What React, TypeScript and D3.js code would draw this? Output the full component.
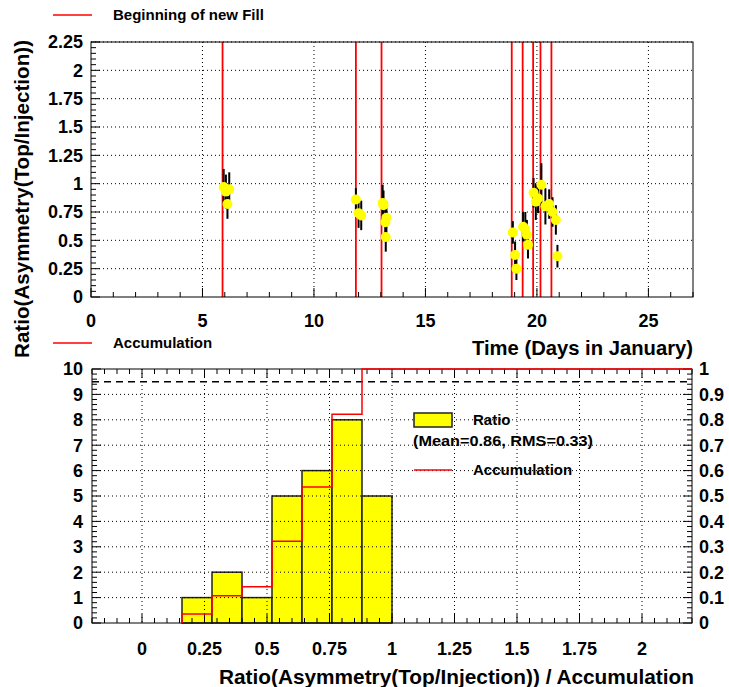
import * as d3 from 'd3'

// fill start times (days in January)
const fillStarts = [5.9, 11.88, 13.03, 18.87, 19.36, 19.83, 20.16, 20.65]

// ratio measurements: time, value, error
const times = [5.95, 6.05, 6.2, 6.12, 11.88, 12.0, 12.12, 13.08, 13.12, 13.2, 13.25, 13.22,
  18.92, 19.02, 19.08, 19.38, 19.48, 19.55, 19.6, 19.85, 19.95, 20.05, 20.2, 20.38, 20.55, 20.7, 20.85, 20.92]
const ratios = [0.97, 0.93, 0.95, 0.82, 0.86, 0.74, 0.72, 0.83, 0.81, 0.66, 0.7, 0.53,
  0.57, 0.37, 0.25, 0.62, 0.6, 0.55, 0.46, 0.92, 0.84, 0.87, 0.99, 0.8, 0.82, 0.75, 0.68, 0.36]
const ratioErrs = [0.16, 0.15, 0.15, 0.13, 0.1, 0.13, 0.13, 0.16, 0.13, 0.16, 0.14, 0.13,
  0.1, 0.12, 0.1, 0.13, 0.15, 0.13, 0.12, 0.13, 0.16, 0.13, 0.19, 0.16, 0.13, 0.13, 0.13, 0.1]

// histogram binning
const binEdges = d3.range(21).map((i) => -0.2 + i * 0.12)
const topYLabels = d3.range(10).map((i) => i * 0.25)
const topXLabels = [0, 5, 10, 15, 20, 25]
const botXLabels = d3.range(9).map((i) => i * 0.25)
const botYLabels = d3.range(11)
const botRLabels = d3.range(11).map((i) => i / 10)

const FONT = '"Liberation Sans", Arial, Helvetica, sans-serif'
const fmt = (v: number) => String(+v.toFixed(2))

const T = { l: 91, r: 693, t: 42, b: 297 }
const B = { l: 92, r: 692, t: 369, b: 623 }

export default function App() {
  const xTop = d3.scaleLinear().domain([0, 27]).range([T.l, T.r])
  const yTop = d3.scaleLinear().domain([0, 2.25]).range([T.b, T.t])
  const xBot = d3.scaleLinear().domain([-0.2, 2.2]).range([B.l, B.r])
  const yL = d3.scaleLinear().domain([0, 10]).range([B.b, B.t])
  const yR = d3.scaleLinear().domain([0, 1]).range([B.b, B.t])

  const bins = binEdges.slice(0, -1).map((lo, i) => {
    const hi = binEdges[i + 1]
    return { x0: lo, x1: hi, n: ratios.filter((v) => v >= lo && v < hi).length }
  })
  const total = d3.sum(bins, (d) => d.n)
  let run = 0
  const cum = bins.map((b) => {
    run += b.n
    return { x0: b.x0, x1: b.x1, f: run / total }
  })
  const firstIdx = cum.findIndex((c) => c.f > 0)
  const stepPts: [number, number][] = [[cum[firstIdx].x0, 0]]
  cum.slice(firstIdx).forEach((c) => {
    stepPts.push([c.x0, c.f])
    stepPts.push([c.x1, c.f])
  })
  const stepLine = d3.line<[number, number]>().x((d) => xBot(d[0])).y((d) => yR(d[1]))

  const dot = '1,3'
  const topXMinor = d3.range(28)
  const topYMinor = d3.range(46).map((i) => i * 0.05)
  const botXMinor = d3.range(49).map((i) => -0.2 + i * 0.05)
  const botLMinor = d3.range(51).map((i) => i * 0.2)
  const botRMinor = d3.range(51).map((i) => i * 0.02)
  const isMajor = (v: number, step: number) => Math.abs(v / step - Math.round(v / step)) < 1e-6

  return (
    <svg width={729} height={687} style={{ position: 'absolute', left: 0, top: 0, background: '#fff' }}
      fontFamily={FONT}>
      <rect width={729} height={687} fill="#fff" />

      {/* ---------- top panel ---------- */}
      <line x1={53} x2={92} y1={15} y2={15} stroke="#f00" strokeWidth={1.5} />
      <text x={113} y={15} dy="0.35em" fontSize={15} fontWeight="bold">Beginning of new Fill</text>

      {topYLabels.slice(1).map((v) => (
        <line key={'gy' + v} x1={T.l} x2={T.r} y1={yTop(v)} y2={yTop(v)} stroke="#000" strokeDasharray={dot} />
      ))}
      {topXLabels.slice(1).map((v) => (
        <line key={'gx' + v} x1={xTop(v)} x2={xTop(v)} y1={T.t} y2={T.b} stroke="#000" strokeDasharray={dot} />
      ))}
      {fillStarts.map((t) => (
        <line key={'f' + t} x1={xTop(t)} x2={xTop(t)} y1={T.t} y2={T.b} stroke="#f00" strokeWidth={1.8} />
      ))}
      {times.map((t, i) => (
        <line key={'e' + i} x1={xTop(t)} x2={xTop(t)} y1={yTop(ratios[i] - ratioErrs[i])}
          y2={yTop(ratios[i] + ratioErrs[i])} stroke="#000" strokeWidth={2} />
      ))}
      {times.map((t, i) => (
        <circle key={'p' + i} cx={xTop(t)} cy={yTop(ratios[i])} r={5} fill="#ffff00" />
      ))}
      <rect x={T.l} y={T.t} width={T.r - T.l} height={T.b - T.t} fill="none" stroke="#000" />
      {topXMinor.map((v) => (
        <line key={'tx' + v} x1={xTop(v)} x2={xTop(v)} y1={T.b} y2={T.b - (isMajor(v, 5) ? 9 : 5)} stroke="#000" />
      ))}
      {topYMinor.map((v) => (
        <line key={'ty' + v} x1={T.l} x2={T.l + (isMajor(v, 0.25) ? 9 : 5)} y1={yTop(v)} y2={yTop(v)} stroke="#000" />
      ))}
      {topYLabels.map((v) => (
        <text key={'ly' + v} x={83} y={yTop(v)} dy="0.35em" textAnchor="end" fontSize={18} fontWeight="bold">{fmt(v)}</text>
      ))}
      {topXLabels.map((v) => (
        <text key={'lx' + v} x={xTop(v)} y={321} dy="0.35em" textAnchor="middle" fontSize={18} fontWeight="bold">{v}</text>
      ))}
      <text x={472} y={348} dy="0.35em" fontSize={21} fontWeight="bold" textLength={221}
        lengthAdjust="spacingAndGlyphs">Time (Days in January)</text>
      <text transform="translate(29,358) rotate(-90)" fontSize={21} fontWeight="bold" textLength={318}
        lengthAdjust="spacingAndGlyphs">Ratio(Asymmetry(Top/Injection))</text>

      {/* ---------- bottom panel ---------- */}
      <line x1={53} x2={92} y1={343} y2={343} stroke="#f00" strokeWidth={1.5} />
      <text x={113} y={343} dy="0.35em" fontSize={15} fontWeight="bold">Accumulation</text>

      {bins.filter((b) => b.n > 0).map((b) => (
        <rect key={'h' + b.x0} x={xBot(b.x0)} y={yL(b.n)} width={xBot(b.x1) - xBot(b.x0)} height={yL(0) - yL(b.n)}
          fill="#ffff00" stroke="#222" strokeWidth={1.5} />
      ))}
      {botYLabels.slice(1, -1).map((v) => (
        <line key={'bgy' + v} x1={B.l} x2={B.r} y1={yL(v)} y2={yL(v)} stroke="#000" strokeDasharray={dot} />
      ))}
      {botXLabels.map((v) => (
        <line key={'bgx' + v} x1={xBot(v)} x2={xBot(v)} y1={B.t} y2={B.b} stroke="#000" strokeDasharray={dot} />
      ))}
      <line x1={B.l} x2={B.r} y1={yR(0.95)} y2={yR(0.95)} stroke="#000" strokeWidth={1.5} strokeDasharray="7,5" />
      <rect x={B.l} y={B.t} width={B.r - B.l} height={B.b - B.t} fill="none" stroke="#000" />
      {botXMinor.map((v, i) => {
        const len = isMajor(v, 0.25) ? 9 : 5
        return (
          <g key={'bx' + i}>
            <line x1={xBot(v)} x2={xBot(v)} y1={B.b} y2={B.b - len} stroke="#000" />
            <line x1={xBot(v)} x2={xBot(v)} y1={B.t} y2={B.t + len} stroke="#000" />
          </g>
        )
      })}
      {botLMinor.map((v, i) => (
        <line key={'bl' + i} x1={B.l} x2={B.l + (isMajor(v, 1) ? 9 : 5)} y1={yL(v)} y2={yL(v)} stroke="#000" />
      ))}
      {botRMinor.map((v, i) => (
        <line key={'br' + i} x1={B.r} x2={B.r - (isMajor(v, 0.1) ? 9 : 5)} y1={yR(v)} y2={yR(v)} stroke="#000" />
      ))}
      <path d={stepLine(stepPts) ?? ''} fill="none" stroke="#f00" strokeWidth={1.5} />

      {botYLabels.map((v) => (
        <text key={'bly' + v} x={83} y={yL(v)} dy="0.35em" textAnchor="end" fontSize={18} fontWeight="bold">{v}</text>
      ))}
      {botRLabels.map((v) => (
        <text key={'bry' + v} x={699} y={yR(v)} dy="0.35em" fontSize={18} fontWeight="bold">{fmt(v)}</text>
      ))}
      {botXLabels.map((v) => (
        <text key={'blx' + v} x={xBot(v)} y={649} dy="0.35em" textAnchor="middle" fontSize={18} fontWeight="bold">{fmt(v)}</text>
      ))}
      <text x={219} y={677} dy="0.35em" fontSize={21} fontWeight="bold" textLength={475}
        lengthAdjust="spacingAndGlyphs">Ratio(Asymmetry(Top/Injection)) / Accumulation</text>

      {/* legend */}
      <rect x={414} y={413} width={38} height={14} fill="#ffff00" stroke="#222" strokeWidth={1.5} />
      <text x={473} y={420} dy="0.35em" fontSize={15} fontWeight="bold">Ratio</text>
      <text x={413} y={441} dy="0.35em" fontSize={15} fontWeight="bold" textLength={180}
        lengthAdjust="spacingAndGlyphs">(Mean=0.86, RMS=0.33)</text>
      <line x1={414} x2={452} y1={470} y2={470} stroke="#f00" strokeWidth={1.5} />
      <text x={473} y={470} dy="0.35em" fontSize={15} fontWeight="bold">Accumulation</text>
    </svg>
  )
}
